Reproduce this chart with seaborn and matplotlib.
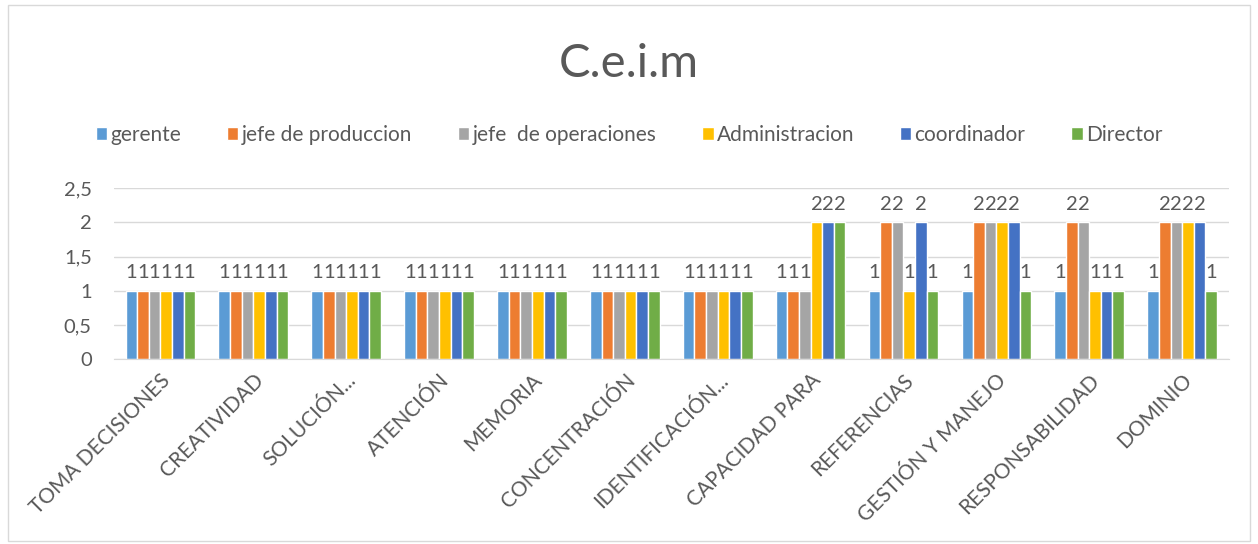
import pandas as pd
import seaborn as sns
import matplotlib.pyplot as plt
from matplotlib.patches import Rectangle

# categories and series
categorias = ['TOMA DECISIONES', 'CREATIVIDAD', 'SOLUCIÓN...', 'ATENCIÓN', 'MEMORIA',
              'CONCENTRACIÓN', 'IDENTIFICACIÓN...', 'CAPACIDAD PARA', 'REFERENCIAS',
              'GESTIÓN Y MANEJO', 'RESPONSABILIDAD', 'DOMINIO']
series = ['gerente', 'jefe de produccion', 'jefe  de operaciones', 'Administracion',
          'coordinador', 'Director']
gerente = [1, 1, 1, 1, 1, 1, 1, 1, 1, 1, 1, 1]
jefe_produccion = [1, 1, 1, 1, 1, 1, 1, 1, 2, 2, 2, 2]
jefe_operaciones = [1, 1, 1, 1, 1, 1, 1, 1, 2, 2, 2, 2]
administracion = [1, 1, 1, 1, 1, 1, 1, 2, 1, 2, 1, 2]
coordinador = [1, 1, 1, 1, 1, 1, 1, 2, 2, 2, 1, 2]
director = [1, 1, 1, 1, 1, 1, 1, 2, 1, 1, 1, 1]
colores = ['#5B9BD5', '#ED7D31', '#A5A5A5', '#FFC000', '#4472C4', '#70AD47']

valores = [gerente, jefe_produccion, jefe_operaciones, administracion, coordinador, director]
rows = []
for s, vals in zip(series, valores):
    for c, v in zip(categorias, vals):
        rows.append({'cat': c, 'serie': s, 'valor': v})
df = pd.DataFrame(rows)

sns.set_style('white')
plt.rcParams['font.family'] = ['Lato', 'DejaVu Sans']
txt = '#595959'

fig = plt.figure(figsize=(12.58, 5.44), dpi=100)
ax = fig.add_axes([0.0906, 0.34, 0.886, 0.314])
sns.barplot(data=df, x='cat', y='valor', hue='serie', hue_order=series, order=categorias,
            palette=colores, width=0.75, saturation=1, ax=ax, legend=True)

for cont in ax.containers:
    ax.bar_label(cont, fmt='%g', padding=7, fontsize=14.5, color=txt)

ax.set_ylim(0, 2.5)
ax.set_yticks([0, 0.5, 1, 1.5, 2, 2.5])
ax.set_yticklabels(['0', '0,5', '1', '1,5', '2', '2,5'], fontsize=14.5, color=txt)
ax.set_xlim(-0.5, len(categorias) - 0.5)
ax.set_xticks(range(len(categorias)))
ax.set_xticklabels(categorias, rotation=45, ha='right', rotation_mode='anchor',
                   fontsize=15, color=txt)
ax.tick_params(axis='y', length=0, pad=16)
ax.tick_params(axis='x', length=0, pad=8)
ax.set_xlabel('')
ax.set_ylabel('')
ax.yaxis.grid(True, color='#D9D9D9', linewidth=1)
ax.set_axisbelow(True)
for sp in ['top', 'right', 'left']:
    ax.spines[sp].set_visible(False)
ax.spines['bottom'].set_color('#D9D9D9')

h, l = ax.get_legend_handles_labels()
ax.get_legend().remove()
fig.legend(h, l, loc='center', bbox_to_anchor=(0.5, 0.752), ncol=6, frameon=False,
           fontsize=15, handlelength=0.55, handleheight=0.6, handletextpad=0.15,
           columnspacing=2.2, labelcolor=txt)

fig.text(0.5, 0.882, 'C.e.i.m', ha='center', va='center', fontsize=34, color=txt)
fig.patches.append(Rectangle((0.006, 0.006), 0.988, 0.985, transform=fig.transFigure,
                             fill=False, edgecolor='#D9D9D9', linewidth=1))

fig.savefig('out.png', dpi=100)
